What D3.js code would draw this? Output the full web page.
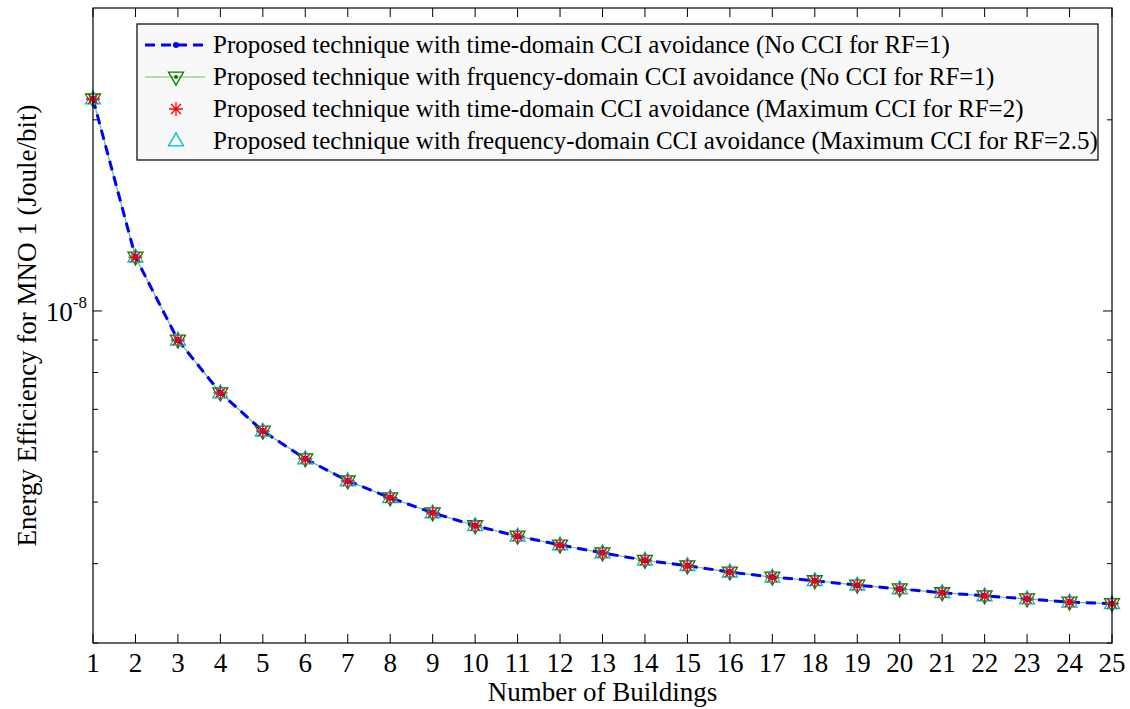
<!DOCTYPE html>
<html>
<head>
<meta charset="utf-8">
<script src="https://cdn.jsdelivr.net/npm/d3@7"></script>
<style>
  body { margin: 0; background: #fff; }
  text { font-family: "Liberation Serif", "Times New Roman", serif; }
</style>
</head>
<body>
<div id="chart"></div>
<script>
// data
const buildings = d3.range(1, 26);
const timeNoCCI = [2.157e-8, 1.216e-8, 9.00e-9, 7.43e-9, 6.47e-9, 5.85e-9, 5.40e-9, 5.08e-9, 4.81e-9, 4.59e-9,
  4.42e-9, 4.28e-9, 4.16e-9, 4.05e-9, 3.97e-9, 3.88e-9, 3.81e-9, 3.76e-9, 3.70e-9, 3.65e-9,
  3.60e-9, 3.56e-9, 3.52e-9, 3.48e-9, 3.46e-9];
const freqNoCCI = [2.157e-8, 1.216e-8, 9.00e-9, 7.43e-9, 6.47e-9, 5.85e-9, 5.40e-9, 5.08e-9, 4.81e-9, 4.59e-9,
  4.42e-9, 4.28e-9, 4.16e-9, 4.05e-9, 3.97e-9, 3.88e-9, 3.81e-9, 3.76e-9, 3.70e-9, 3.65e-9,
  3.60e-9, 3.56e-9, 3.52e-9, 3.48e-9, 3.46e-9];
const timeMaxCCI = [2.157e-8, 1.216e-8, 9.00e-9, 7.43e-9, 6.47e-9, 5.85e-9, 5.40e-9, 5.08e-9, 4.81e-9, 4.59e-9,
  4.42e-9, 4.28e-9, 4.16e-9, 4.05e-9, 3.97e-9, 3.88e-9, 3.81e-9, 3.76e-9, 3.70e-9, 3.65e-9,
  3.60e-9, 3.56e-9, 3.52e-9, 3.48e-9, 3.46e-9];
const freqMaxCCI = [2.157e-8, 1.216e-8, 9.00e-9, 7.43e-9, 6.47e-9, 5.85e-9, 5.40e-9, 5.08e-9, 4.81e-9, 4.59e-9,
  4.42e-9, 4.28e-9, 4.16e-9, 4.05e-9, 3.97e-9, 3.88e-9, 3.81e-9, 3.76e-9, 3.70e-9, 3.65e-9,
  3.60e-9, 3.56e-9, 3.52e-9, 3.48e-9, 3.46e-9];
const legendLabels = [
  "Proposed technique with time-domain CCI avoidance (No CCI for RF=1)",
  "Proposed technique with frquency-domain CCI avoidance (No CCI for RF=1)",
  "Proposed technique with time-domain CCI avoidance (Maximum CCI for RF=2)",
  "Proposed technique with frequency-domain CCI avoidance (Maximum CCI for RF=2.5)"
];
const yMinorTicks = [3e-9, 4e-9, 5e-9, 6e-9, 7e-9, 8e-9, 9e-9, 2e-8];

const width = 1130, height = 709;
const margin = { left: 93, right: 18, top: 8, bottom: 66 };
const iw = width - margin.left - margin.right;
const ih = height - margin.top - margin.bottom;

const svg = d3.select("#chart").append("svg")
  .attr("width", width).attr("height", height);

const x = d3.scaleLinear().domain([1, 25]).range([0, iw]);
const y = d3.scaleLog().domain([3e-9, 3e-8]).range([ih, 0]);

const g = svg.append("g").attr("transform", `translate(${margin.left},${margin.top})`);

// ticks, inward on all four sides
const tickG = g.append("g").attr("stroke", "#000").attr("stroke-width", 1);
buildings.forEach(b => {
  tickG.append("line").attr("x1", x(b)).attr("x2", x(b)).attr("y1", ih).attr("y2", ih - 9);
  tickG.append("line").attr("x1", x(b)).attr("x2", x(b)).attr("y1", 0).attr("y2", 9);
});
yMinorTicks.forEach(v => {
  tickG.append("line").attr("x1", 0).attr("x2", 5).attr("y1", y(v)).attr("y2", y(v));
  tickG.append("line").attr("x1", iw).attr("x2", iw - 5).attr("y1", y(v)).attr("y2", y(v));
});
tickG.append("line").attr("x1", 0).attr("x2", 9).attr("y1", y(1e-8)).attr("y2", y(1e-8));
tickG.append("line").attr("x1", iw).attr("x2", iw - 9).attr("y1", y(1e-8)).attr("y2", y(1e-8));

// x tick labels
g.append("g").selectAll("text").data(buildings).join("text")
  .attr("x", d => x(d)).attr("y", ih + 29)
  .attr("text-anchor", "middle").attr("font-size", 27)
  .text(d => d);

// y tick label 10^-8
const yl = g.append("text").attr("x", -6).attr("y", y(1e-8) + 10)
  .attr("text-anchor", "end").attr("font-size", 27);
yl.append("tspan").text("10");
yl.append("tspan").attr("dy", -13).attr("font-size", 17).text("-8");

// axis titles
svg.append("text").attr("x", margin.left + iw / 2).attr("y", 701)
  .attr("text-anchor", "middle").attr("font-size", 27).text("Number of Buildings");
svg.append("text")
  .attr("transform", `translate(36,${margin.top + ih / 2}) rotate(-90)`)
  .attr("text-anchor", "middle").attr("font-size", 27)
  .text("Energy Efficiency for MNO 1 (Joule/bit)");

// series
const line = d3.line().x((d, i) => x(buildings[i])).y(d => y(d));

g.append("path").datum(freqNoCCI).attr("d", line)
  .attr("fill", "none").attr("stroke", "#6fbf6f").attr("stroke-width", 1.2);
g.append("path").datum(timeNoCCI).attr("d", line)
  .attr("fill", "none").attr("stroke", "#0000ff").attr("stroke-width", 3)
  .attr("stroke-dasharray", "10,6");

const tri = (cx, cy, s, up) => {
  const h = s * 0.87;
  return up
    ? `M${cx},${cy - h * 0.62}L${cx + s / 2},${cy + h * 0.38}L${cx - s / 2},${cy + h * 0.38}Z`
    : `M${cx},${cy + h * 0.62}L${cx + s / 2},${cy - h * 0.38}L${cx - s / 2},${cy - h * 0.38}Z`;
};
const star = (cx, cy, r) => {
  let p = "";
  for (let k = 0; k < 4; k++) {
    const a = k * Math.PI / 4;
    p += `M${cx - r * Math.cos(a)},${cy - r * Math.sin(a)}L${cx + r * Math.cos(a)},${cy + r * Math.sin(a)}`;
  }
  return p;
};

function drawMarkers(sel, kind, cx, cy) {
  if (kind === 0) {
    sel.append("circle").attr("cx", cx).attr("cy", cy).attr("r", 3).attr("fill", "#0000ff");
  } else if (kind === 1) {
    sel.append("path").attr("d", tri(cx, cy, 15, false))
      .attr("fill", "none").attr("stroke", "#008000").attr("stroke-width", 1.3);
    sel.append("circle").attr("cx", cx).attr("cy", cy).attr("r", 2).attr("fill", "#008000");
  } else if (kind === 2) {
    sel.append("path").attr("d", star(cx, cy, 7))
      .attr("fill", "none").attr("stroke", "#ff0000").attr("stroke-width", 1.3);
  } else {
    sel.append("path").attr("d", tri(cx, cy, 15, true))
      .attr("fill", "none").attr("stroke", "#00bfbf").attr("stroke-width", 1.3);
  }
}

const seriesList = [timeNoCCI, freqNoCCI, timeMaxCCI, freqMaxCCI];
const markG = g.append("g");
[1, 3, 0, 2].forEach(k => {
  seriesList[k].forEach((v, i) => drawMarkers(markG, k, x(buildings[i]), y(v)));
});

// box
g.append("rect").attr("width", iw).attr("height", ih)
  .attr("fill", "none").attr("stroke", "#000").attr("stroke-width", 1.2);

// legend
const lg = svg.append("g").attr("transform", "translate(137,24)");
lg.append("rect").attr("width", 961).attr("height", 136)
  .attr("fill", "#f8f8f8").attr("stroke", "#000").attr("stroke-width", 1.2);
legendLabels.forEach((lab, k) => {
  const cy = 21 + k * 32;
  if (k === 0) {
    lg.append("line").attr("x1", 8).attr("x2", 68).attr("y1", cy).attr("y2", cy)
      .attr("stroke", "#0000ff").attr("stroke-width", 3).attr("stroke-dasharray", "10,6");
  } else if (k === 1) {
    lg.append("line").attr("x1", 8).attr("x2", 68).attr("y1", cy).attr("y2", cy)
      .attr("stroke", "#6fbf6f").attr("stroke-width", 1.2);
  }
  drawMarkers(lg, k, 39, cy);
  lg.append("text").attr("x", 76).attr("y", cy + 8).attr("font-size", 25).text(lab);
});
</script>
</body>
</html>
